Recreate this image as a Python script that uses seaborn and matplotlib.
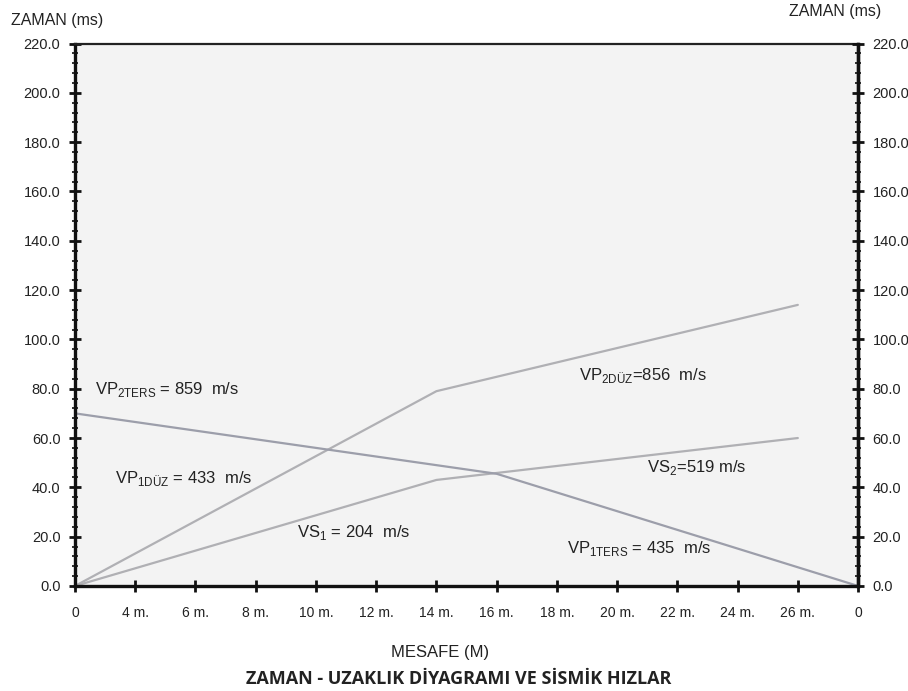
import matplotlib
matplotlib.use("Agg")
import matplotlib.pyplot as plt
from matplotlib.ticker import MultipleLocator, FixedLocator, FormatStrFormatter
import seaborn as sns
import pandas as pd

# ---- data ----
positions = list(range(14))
x_labels = ["0", "4 m.", "6 m.", "8 m.", "10 m.", "12 m.", "14 m.", "16 m.",
            "18 m.", "20 m.", "22 m.", "24 m.", "26 m.", "0"]
vp_duz_x = [0, 6, 12]
vp_duz_t = [0.0, 79.0, 114.0]
vs_x = [0, 6, 12]
vs_t = [0.0, 43.0, 60.0]
vp_ters_x = [0, 7, 13]
vp_ters_t = [70.0, 45.5, 0.0]

label_texts = [r"VP$_{\mathregular{2TERS}}$ = 859  m/s",
               r"VP$_{\mathregular{1DÜZ}}$ = 433  m/s",
               r"VS$_{\mathregular{1}}$ = 204  m/s",
               r"VP$_{\mathregular{2DÜZ}}$=856  m/s",
               r"VS$_{\mathregular{2}}$=519 m/s",
               r"VP$_{\mathregular{1TERS}}$ = 435  m/s"]
label_x = [0.33, 0.66, 3.68, 8.36, 9.49, 8.16]
label_y = [79.5, 43.5, 21.5, 85.5, 48.0, 15.0]

df = pd.concat([
    pd.DataFrame({"x": vp_duz_x, "t": vp_duz_t, "s": "vp_duz"}),
    pd.DataFrame({"x": vs_x, "t": vs_t, "s": "vs"}),
    pd.DataFrame({"x": vp_ters_x, "t": vp_ters_t, "s": "vp_ters"}),
])

sns.set_style("ticks")
plt.rcParams["font.family"] = ["Liberation Sans", "DejaVu Sans"]
plt.rcParams["mathtext.fontset"] = "custom"
plt.rcParams["mathtext.rm"] = "Liberation Sans"

fig = plt.figure(figsize=(9.08, 6.91), dpi=100)
ax = fig.add_axes([0.0826, 0.152, 0.8624, 0.785])
ax.set_facecolor("#f3f3f3")

palette = {"vp_duz": "#b0b0b4", "vs": "#b0b0b4", "vp_ters": "#9c9eaa"}
sns.lineplot(data=df, x="x", y="t", hue="s", palette=palette, ax=ax,
             legend=False, linewidth=1.6, estimator=None, sort=False)

ax.set_xlim(0, 13)
ax.set_ylim(0, 220)
ax.xaxis.set_major_locator(FixedLocator(positions))
ax.set_xticklabels(x_labels)
ax.yaxis.set_major_locator(MultipleLocator(20))
ax.yaxis.set_minor_locator(MultipleLocator(4))
ax.yaxis.set_major_formatter(FormatStrFormatter("%.1f"))
ax.set_xlabel("")
ax.set_ylabel("")

for side in ["left", "bottom", "right"]:
    ax.spines[side].set_linewidth(2.4)
    ax.spines[side].set_color("#111111")
ax.spines["top"].set_linewidth(1.6)
ax.spines["top"].set_color("#222222")

ax.tick_params(axis="y", which="major", direction="inout", length=9, width=2,
               labelsize=10.5, pad=6, colors="#111111")
ax.tick_params(axis="y", which="minor", direction="inout", length=4, width=1.2,
               colors="#111111")
ax.tick_params(axis="x", which="major", direction="inout", length=9, width=2,
               labelsize=10, pad=10, colors="#111111")
for lbl in ax.get_yticklabels():
    lbl.set_color("#222222")
for lbl in ax.get_xticklabels():
    lbl.set_color("#222222")

ax2 = ax.twinx()
ax2.set_ylim(0, 220)
ax2.yaxis.set_major_locator(MultipleLocator(20))
ax2.yaxis.set_minor_locator(MultipleLocator(4))
ax2.yaxis.set_major_formatter(FormatStrFormatter("%.1f"))
for side in ["left", "bottom", "top"]:
    ax2.spines[side].set_visible(False)
ax2.spines["right"].set_linewidth(2.4)
ax2.spines["right"].set_color("#111111")
ax2.tick_params(axis="y", which="major", direction="inout", length=9, width=2,
                labelsize=10.5, pad=6, colors="#111111")
ax2.tick_params(axis="y", which="minor", direction="inout", length=4, width=1.2,
                colors="#111111")
for lbl in ax2.get_yticklabels():
    lbl.set_color("#222222")

for txt, tx, ty in zip(label_texts, label_x, label_y):
    ax.text(tx, ty, txt, fontsize=12, color="#222222", va="center", ha="left")

fig.text(0.012, 0.970, "ZAMAN (ms)", fontsize=11.5, color="#222222",
         ha="left", va="center")
fig.text(0.97, 0.984, "ZAMAN (ms)", fontsize=11.5, color="#222222",
         ha="right", va="center")
fig.text(0.485, 0.055, "MESAFE (M)", fontsize=12, color="#222222",
         ha="center", va="center")
fig.text(0.505, 0.018, "ZAMAN - UZAKLIK DİYAGRAMI VE SİSMİK HIZLAR",
         fontsize=13, fontweight="bold", color="#222222", ha="center",
         va="center", family=["Open Sans", "DejaVu Sans"])

fig.savefig("out.png", dpi=100, facecolor="white")
